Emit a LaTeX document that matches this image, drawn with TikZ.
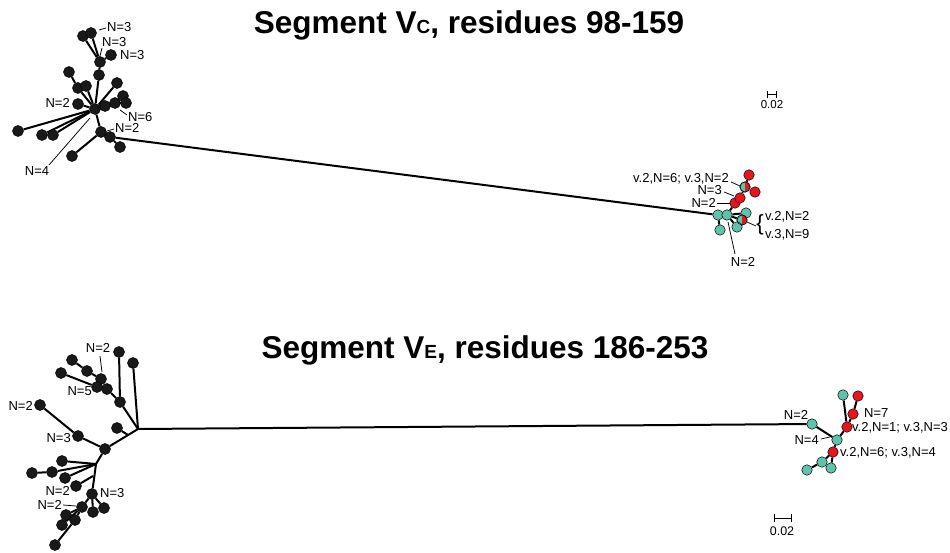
\documentclass[tikz,border=0pt]{standalone}
\usepackage{fontspec}
\setmainfont{Liberation Sans}
\pgfdeclarelayer{bg}
\pgfsetlayers{bg,main}
\definecolor{tealc}{RGB}{95,195,170}
\definecolor{redc}{RGB}{232,20,30}
\definecolor{blk}{RGB}{25,25,25}
\begin{document}
\begin{tikzpicture}[x=1pt,y=-1pt,
  br/.style={line width=2pt, draw=black},
  ld/.style={line width=0.75pt, draw=black},
  bn/.style={circle, draw=black, fill=blk, line width=0.5pt, minimum size=11pt, inner sep=0pt},
  tn/.style={circle, draw=black, fill=tealc, line width=0.5pt, minimum size=10.5pt, inner sep=0pt},
  rn/.style={circle, draw=black, fill=redc, line width=0.5pt, minimum size=10.5pt, inner sep=0pt},
  lab/.style={font=\fontsize{13}{13}\selectfont, inner sep=0pt},
  ttl/.style={font=\bfseries\fontsize{31.5}{31.5}\selectfont, inner sep=0pt}]
\useasboundingbox (0,0) rectangle (950,553);

% titles
\node[ttl] (title1) at (469,25) {Segment V{\fontsize{19}{19}\selectfont C}, residues 98-159};
\node[ttl] (title2) at (485,350) {Segment V{\fontsize{19}{19}\selectfont E}, residues 186-253};

% ---------------- top-left tree ----------------
\node[bn] (t0) at (95,109) {};
\node[bn] (ta1) at (83,36) {};
\node[bn] (ta2) at (91,33) {};
\node[bn] (tc) at (100,62) {};
\node[bn] (tc2) at (111,55) {};
\node[bn] (tb) at (99,75) {};
\node[bn] (td1) at (69,72) {};
\node[bn] (td2) at (78,88) {};
\node[bn] (td3) at (86,86) {};
\node[bn] (te) at (78,104) {};
\node[bn] (tf) at (117,83) {};
\node[bn] (tg1) at (105,106) {};
\node[bn] (tg2) at (115,103) {};
\node[bn] (tg3) at (123,96) {};
\node[bn] (tg4) at (126,103) {};
\node[bn] (th) at (101,132) {};
\node[bn] (ti) at (110,137) {};
\node[bn] (tj) at (120,147) {};
\node[bn] (tk) at (72,156) {};
\node[bn] (tl1) at (18,131) {};
\node[bn] (tl2) at (42,135) {};
\node[bn] (tl3) at (53,135) {};

\begin{pgfonlayer}{bg}
\draw[br] (t0) -- (tb) -- (tc) -- (ta2);
\draw[br] (tc) -- (ta1);
\draw[br] (tc) -- (tc2);
\draw[br] (t0) -- (td2) -- (td1);
\draw[br] (t0) -- (td3);
\draw[br] (t0) -- (te);
\draw[br] (t0) -- (tf);
\draw[br] (t0) -- (tg1) -- (tg2) -- (tg3);
\draw[br] (tg2) -- (tg4);
\draw[br] (t0) -- (th) -- (ti) -- (tj);
\draw[br] (th) -- (tk);
\draw[br] (t0) -- (tl1);
\draw[br] (t0) -- (tl2);
\draw[br] (t0) -- (tl3);
\end{pgfonlayer}

\node[lab, anchor=west] (lt1) at (107,27) {N=3};
\node[lab, anchor=west] (lt2) at (102,42) {N=3};
\node[lab, anchor=west] (lt3) at (120,55) {N=3};
\node[lab, anchor=east] (lt4) at (70,103) {N=2};
\node[lab, anchor=west] (lt5) at (128,117) {N=6};
\node[lab, anchor=west] (lt6) at (115,128) {N=2};
\node[lab] (lt7) at (37,171) {N=4};
\coordinate (q1a) at (99,30); \coordinate (q1b) at (106,28);
\coordinate (q2a) at (102,48); \coordinate (q2b) at (100,56);
\coordinate (q5a) at (120,110); \coordinate (q5b) at (127,115);
\coordinate (q6a) at (107,131); \coordinate (q6b) at (114,129);
\coordinate (q7a) at (49,165); \coordinate (q7b) at (90,118);
\draw[ld] (q1a) -- (q1b);
\draw[ld] (q2a) -- (q2b);
\draw[ld] (q5a) -- (q5b);
\draw[ld] (q6a) -- (q6b);
\draw[ld] (q7a) -- (q7b);

% ---------------- top-right cluster ----------------
\node[tn] (T1) at (718,215) {};
\node[tn] (T2) at (727,215) {};
\node[tn] (T3) at (720,230) {};
\node[rn] (r1) at (735,203) {};
\node[rn] (r2) at (740,198) {};
\node[tn] (r3) at (745,187) {};
\node[rn] (r4) at (749,175) {};
\node[rn] (r5) at (755,192) {};
\node[tn] (s1) at (746,213) {};
\node[tn] (s2) at (742,220) {};
\node[tn] (s3) at (737,227) {};
\fill[redc] (r3.north) arc[start angle=90, end angle=-90, radius=5pt] -- cycle;
\draw[line width=0.5pt] (r3) circle[radius=5pt];
\fill[redc] (s2.north) arc[start angle=90, end angle=-90, radius=5pt] -- cycle;
\draw[line width=0.5pt] (s2) circle[radius=5pt];

\begin{pgfonlayer}{bg}
\draw[br] (ti) -- (T1);
\draw[br] (T1) -- (T2);
\draw[br] (T1) -- (T3);
\draw[br] (T2) -- (r1) -- (r2) -- (r3) -- (r4);
\draw[br] (r3) -- (r5);
\draw[br] (T2) -- (s1);
\draw[br] (T2) -- (s2);
\draw[br] (T2) -- (s3);
\end{pgfonlayer}

\node[lab, anchor=east] (lr1) at (729,179) {v.2,N=6; v.3,N=2};
\node[lab, anchor=east] (lr2) at (722,190.5) {N=3};
\node[lab, anchor=east] (lr3) at (716,203) {N=2};
\node[font=\fontsize{22}{22}\selectfont, inner sep=0pt] (brace) at (760,225) {\{};
\node[lab, anchor=west] (lr4) at (765,217) {v.2,N=2};
\node[lab, anchor=west] (lr5) at (765,235) {v.3,N=9};
\node[lab] (lr6) at (743,262) {N=2};
\coordinate (p1a) at (731,182); \coordinate (p1b) at (740,186);
\coordinate (p2a) at (724,192); \coordinate (p2b) at (734,196);
\coordinate (p3a) at (717,203); \coordinate (p3b) at (730,203);
\coordinate (p4a) at (747,222); \coordinate (p4b) at (756,226);
\coordinate (p6a) at (735,254); \coordinate (p6b) at (728,222);
\draw[ld] (p1a) -- (p1b);
\draw[ld] (p2a) -- (p2b);
\draw[ld] (p3a) -- (p3b);
\draw[ld] (p4a) -- (p4b);
\draw[ld] (p6a) -- (p6b);

% top scale bar
\coordinate (sa1) at (767,95); \coordinate (sa2) at (776,95);
\draw[line width=1pt] ([yshift=-3.5pt]sa1) -- ([yshift=3.5pt]sa1);
\draw[line width=1pt] ([yshift=-3.5pt]sa2) -- ([yshift=3.5pt]sa2);
\draw[line width=1pt] (sa1) -- (sa2);
\node[font=\fontsize{11.5}{11.5}\selectfont, inner sep=0pt] (sl1) at (772,105) {0.02};

% ---------------- bottom-left tree ----------------
\coordinate (j0) at (138,429);
\node[bn] (ba) at (133,363) {};
\node[bn] (bb) at (119,352) {};
\node[bn] (bc) at (120,402) {};
\node[bn] (bd) at (107,389) {};
\node[bn] (be) at (101,379) {};
\node[bn] (bf) at (87,371) {};
\node[bn] (bg) at (72,360) {};
\node[bn] (bhh) at (61,373) {};
\node[bn] (bi) at (97,387) {};
\node[bn] (bk) at (117,428) {};
\coordinate (bkj) at (128,435);
\node[bn] (bl) at (105,449) {};
\node[bn] (bm) at (78,436) {};
\node[bn] (bp) at (40,405) {};
\coordinate (bq) at (96,464);
\node[bn] (bq1) at (62,461) {};
\node[bn] (bq2) at (52,472) {};
\node[bn] (bq3) at (32,473) {};
\node[bn] (bq4) at (65,478) {};
\coordinate (bsj) at (93,476);
\node[bn] (bs) at (76,486) {};
\node[bn] (bt) at (92,494) {};
\node[bn] (bt1) at (93,512) {};
\node[bn] (bt2) at (104,508) {};
\node[bn] (bu) at (82,507) {};
\node[bn] (bu1) at (66,515) {};
\node[bn] (bu2) at (75,520) {};
\node[bn] (bu3) at (62,525) {};
\node[bn] (bv) at (55,545) {};

% ---------------- bottom-right cluster ----------------
\node[tn] (c1) at (812,424) {};
\node[tn] (ch) at (837,440) {};
\node[rn] (cr1) at (847,427) {};
\node[tn] (ct1) at (843,395) {};
\node[rn] (cr2) at (853,414) {};
\node[rn] (cr3) at (858,396) {};
\node[rn] (cr4) at (833,452) {};
\node[tn] (ct2) at (822,462) {};
\node[tn] (ct3) at (807,470) {};
\node[tn] (ct4) at (831,468) {};

\begin{pgfonlayer}{bg}
\draw[br] (j0) -- (c1);
\draw[br] (j0) -- (ba);
\draw[br] (j0) -- (bc);
\draw[br] (bc) -- (bb);
\draw[br] (bc) -- (bd) -- (be) -- (bf) -- (bg);
\draw[br] (bd) -- (bi) -- (bhh);
\draw[br] (j0) -- (bl);
\draw[br] (bk) -- (bkj);
\draw[br] (bl) -- (bm) -- (bp);
\draw[br] (bl) -- (bq);
\draw[br] (bq) -- (bq1);
\draw[br] (bq) -- (bq2) -- (bq3);
\draw[br] (bq) -- (bq4);
\draw[br] (bq) -- (bt);
\draw[br] (bs) -- (bsj);
\draw[br] (bt) -- (bt1);
\draw[br] (bt) -- (bt2);
\draw[br] (bt) -- (bu);
\draw[br] (bu) -- (bu1);
\draw[br] (bu) -- (bu3);
\draw[br] (bu) -- (bu2) -- (bv);
\draw[br] (c1) -- (ch) -- (cr1) -- (ct1);
\draw[br] (cr1) -- (cr2) -- (cr3);
\draw[br] (ch) -- (cr4) -- (ct2) -- (ct3);
\draw[br] (cr4) -- (ct4);
\end{pgfonlayer}

\node[lab] (lb1) at (98,348) {N=2};
\node[lab, anchor=east] (lb2) at (92,391) {N=5};
\node[lab, anchor=east] (lb3) at (33,406) {N=2};
\node[lab, anchor=east] (lb4) at (71,438) {N=3};
\node[lab, anchor=east] (lb5) at (70,491) {N=2};
\node[lab, anchor=east] (lb7) at (62,504.5) {N=2};
\node[lab, anchor=west] (lb6) at (100,493) {N=3};
\coordinate (u1a) at (100,356); \coordinate (u1b) at (102,372);
\coordinate (u7a) at (63,505) ; \coordinate (u7b) at (76,506);
\draw[ld] (u1a) -- (u1b);
\draw[ld] (u7a) -- (u7b);

\node[lab] (lc1) at (796,415) {N=2};
\node[lab, anchor=west] (lc2) at (864,413) {N=7};
\node[lab, anchor=west] (lc3) at (852,428) {v.2,N=1; v.3,N=3};
\node[lab, anchor=east] (lc4) at (819,440) {N=4};
\node[lab, anchor=west] (lc5) at (840,453) {v.2,N=6; v.3,N=4};
\coordinate (w4a) at (821,439); \coordinate (w4b) at (830,437);
\draw[ld] (w4a) -- (w4b);

% bottom scale bar
\coordinate (sb1) at (774,518); \coordinate (sb2) at (791,518);
\draw[line width=1pt] ([yshift=-4pt]sb1) -- ([yshift=4pt]sb1);
\draw[line width=1pt] ([yshift=-4pt]sb2) -- ([yshift=4pt]sb2);
\draw[line width=1pt] (sb1) -- (sb2);
\node[font=\fontsize{12.5}{12.5}\selectfont, inner sep=0pt] (sl2) at (782,531) {0.02};
\end{tikzpicture}
\end{document}
